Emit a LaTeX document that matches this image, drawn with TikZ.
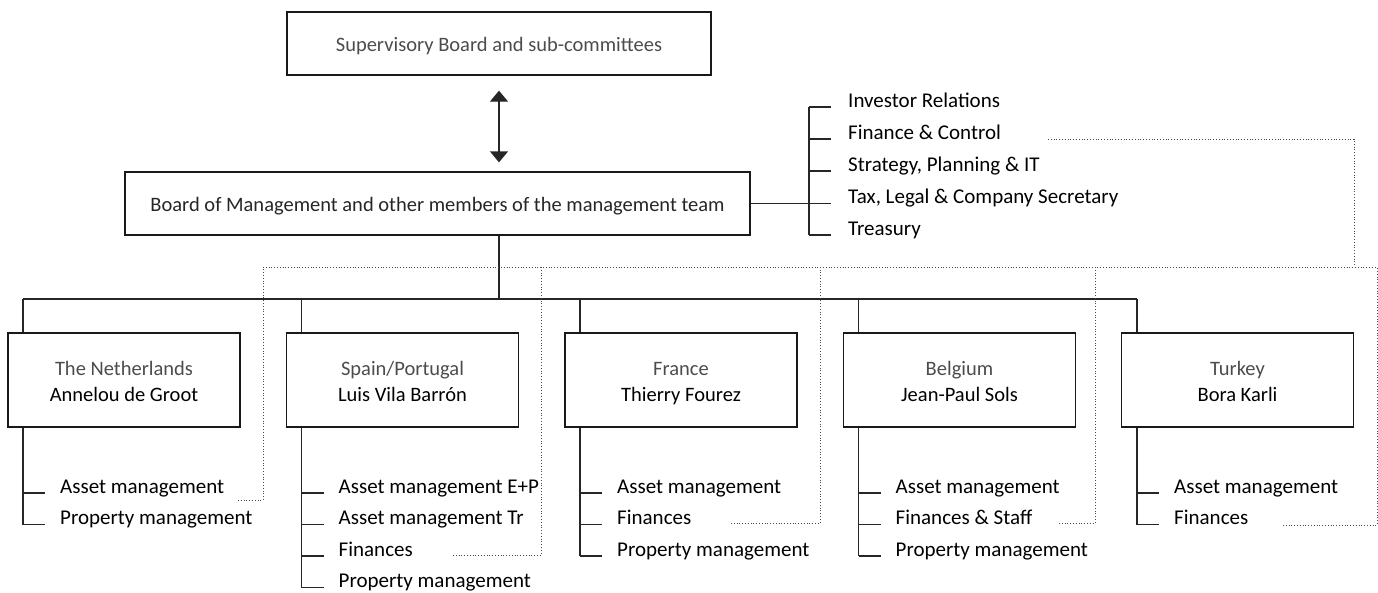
\documentclass[tikz,border=0pt]{standalone}
\usepackage{fontspec}
\setmainfont{Carlito}
\usetikzlibrary{arrows.meta,calc}
\newcommand\mystrut{\rule[-5pt]{0pt}{26pt}}
\newcommand\twolines[2]{{\color{black!70}\mystrut #1}\\\mystrut #2}
\begin{document}
\begin{tikzpicture}[x=1pt,y=-1pt,
  line/.style={line width=1.3pt, draw=black!85},
  dots/.style={line width=0.9pt, draw=black!70, dash pattern=on 0.9pt off 1.9pt},
  box/.style={draw=black!90, line width=1.3pt, inner sep=0pt, align=center,
              font=\fontsize{20.5}{26}\selectfont},
  cbox/.style={box, minimum width=232pt, minimum height=94pt},
  item/.style={anchor=base west, inner sep=0pt, font=\fontsize{21}{26}\selectfont},
  lt/.style={text=black!70},
  tick/.style={line}
]
\useasboundingbox (0,0) rectangle (1378,592);

% top boxes
\node[box, lt, minimum width=424pt, minimum height=63pt] (sup) at (499,43.5) {\mystrut Supervisory Board and sub-committees};
\node[box, text=black!85, minimum width=625pt, minimum height=63pt] (board) at (437.5,203.5) {\mystrut Board of Management and other members of the management team};
\draw[line, {Triangle[width=18pt,length=11pt]}-{Triangle[width=18pt,length=11pt]}, shorten <=15pt, shorten >=9pt]
  (sup.south) -- (sup.south |- board.north);

% staff list
\coordinate (rb) at (809,0);
\node[item] (r1) at (848,107) {Investor Relations};
\node[item] (r2) at (848,139) {Finance \& Control};
\node[item] (r3) at (848,171) {Strategy, Planning \& IT};
\node[item] (r4) at (848,203.5) {Tax, Legal \& Company Secretary};
\node[item] (r5) at (848,235) {Treasury};
\draw[line] (board.east) -- (rb |- board.east);
\draw[line] (rb |- r1.base) -- (rb |- r5.base);
\foreach \n in {r1,r2,r3,r4,r5} \draw[tick] (rb |- \n.base) -- ++(22,0);

% country boxes
\node[cbox] (nl) at (124,380) {\twolines{The Netherlands}{Annelou de Groot}};
\node[cbox] (es) at (402.5,380) {\twolines{Spain/Portugal}{Luis Vila Barrón}};
\node[cbox] (fr) at (681,380) {\twolines{France}{Thierry Fourez}};
\node[cbox] (be) at (959.5,380) {\twolines{Belgium}{Jean-Paul Sols}};
\node[cbox] (tr) at (1237.5,380) {\twolines{Turkey}{Bora Karli}};

\coordinate (nls) at (23,299);
\coordinate (ess) at (301.5,299);
\coordinate (frs) at (580,299);
\coordinate (bes) at (858.5,299);
\coordinate (trs) at (1137,299);

\draw[line] (sup.south |- board.south) -- (sup.south |- nls);
\draw[line] (nls) -- (trs);
\foreach \s/\b in {nls/nl,ess/es,frs/fr,bes/be,trs/tr} \draw[line] (\s) -- (\s |- \b.north);

% items
\node[item] (nl1) at (60,493) {Asset management};
\node[item] (nl2) at (60,524.5) {Property management};
\node[item] (es1) at (338.5,493) {Asset management E+P};
\node[item] (es2) at (338.5,524.5) {Asset management Tr};
\node[item] (es3) at (338.5,556) {Finances};
\node[item] (es4) at (338.5,587.5) {Property management};
\node[item] (fr1) at (617,493) {Asset management};
\node[item] (fr2) at (617,524.5) {Finances};
\node[item] (fr3) at (617,556) {Property management};
\node[item] (be1) at (895.5,493) {Asset management};
\node[item] (be2) at (895.5,524.5) {Finances \& Staff};
\node[item] (be3) at (895.5,556) {Property management};
\node[item] (tr1) at (1174,493) {Asset management};
\node[item] (tr2) at (1174,524.5) {Finances};

\draw[line] (nls |- nl.south) -- (nls |- nl2.base);
\draw[line] (ess |- es.south) -- (ess |- es4.base);
\draw[line] (frs |- fr.south) -- (frs |- fr3.base);
\draw[line] (bes |- be.south) -- (bes |- be3.base);
\draw[line] (trs |- tr.south) -- (trs |- tr2.base);
\foreach \s/\n in {nls/nl1,nls/nl2,ess/es1,ess/es2,ess/es3,ess/es4,frs/fr1,frs/fr2,frs/fr3,bes/be1,bes/be2,bes/be3,trs/tr1,trs/tr2}
  \draw[tick] (\s |- \n.base) -- ++(22,0);

% dotted reporting lines
\coordinate (fc) at (1048,139);
\coordinate (dl) at (263,267);
\coordinate (dr) at (1377,267);
\draw[dots] (fc) -| (1354,267);
\draw[dots] (dl) -- (dr);
\draw[dots] (238,500) -| (dl);
\draw[dots] (453,555) -| (541,267);
\draw[dots] (731,523) -| (820,267);
\draw[dots] (1059,523) -| (1095,267);
\draw[dots] (1283,525) -| (dr);
\end{tikzpicture}
\end{document}
